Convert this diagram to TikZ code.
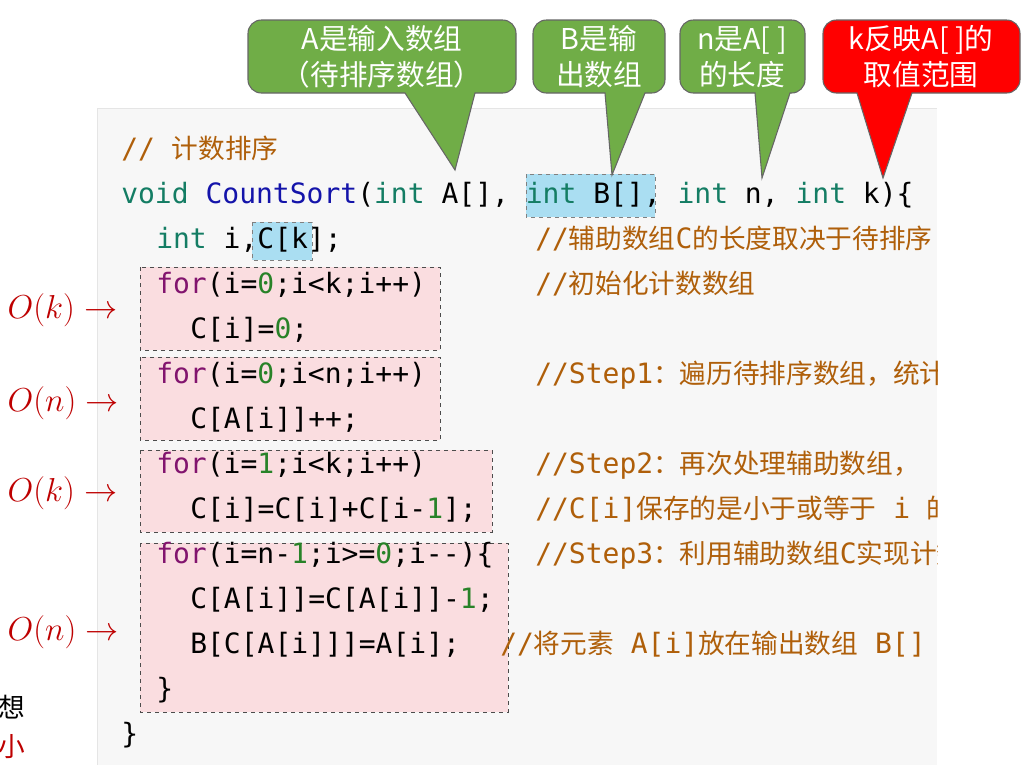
\documentclass[tikz,border=0pt]{standalone}
\usepackage{fontspec}
\setmainfont{Noto Sans CJK SC}
\setmonofont{DejaVu Sans Mono}
\newfontfamily\cjk{Noto Sans CJK SC}
\definecolor{kwgreen}{RGB}{20,125,100}
\definecolor{fnblue}{RGB}{20,20,170}
\definecolor{forpurple}{RGB}{130,20,110}
\definecolor{numgreen}{RGB}{40,130,40}
\definecolor{cmbrown}{RGB}{175,95,10}
\definecolor{boxpink}{RGB}{250,221,224}
\definecolor{hlblue}{RGB}{170,222,242}
\definecolor{callgreen}{RGB}{112,173,71}
\definecolor{darkred}{RGB}{190,0,0}
\newcommand{\kw}[1]{\textcolor{kwgreen}{#1}}
\newcommand{\fn}[1]{\textcolor{fnblue}{#1}}
\newcommand{\fr}[1]{\textcolor{forpurple}{#1}}
\newcommand{\nm}[1]{\textcolor{numgreen}{#1}}
\newcommand{\zh}[1]{{\cjk\fontsize{20}{24}\selectfont #1}}
\newcommand{\cm}[1]{\textcolor{cmbrown}{#1}}
\tikzset{
  code/.style={anchor=base west, inner sep=0pt, font=\ttfamily\fontsize{21}{25}\selectfont},
  loopbox/.style={draw=black!70, dashed, fill=boxpink},
  hlbox/.style={draw=black!50, dashed, fill=hlblue},
  callout/.style={draw=black!60, line width=0.8pt, rounded corners=10},
  calltext/.style={text=white, align=center, font=\fontsize{21.5}{27}\selectfont},
  cost/.style={text=darkred, anchor=west, font=\fontsize{27}{30}\selectfont}
}
\begin{document}
\begin{tikzpicture}[x=0.75pt, y=-0.75pt]
\useasboundingbox (0,0) rectangle (1036,765);
\fill[white] (0,0) rectangle (1036,765);
% code panel
\fill[black!3] (97,108) rectangle (937,765);
\draw[black!10] (97,765) -- (97,108) -- (937,108);
% loop boxes and highlights
\draw[loopbox] (140,267) rectangle (440,350);
\draw[loopbox] (140,357) rectangle (440,440);
\draw[loopbox] (140,450) rectangle (492,532);
\draw[loopbox] (140,543) rectangle (508,712);
\draw[hlbox] (526,174) rectangle (655,217);
\draw[hlbox] (252,222) rectangle (312,260);
% code lines
\begin{scope}
\clip (97,108) rectangle (937,765);
\node[code] (l1) at (121,158) {\cm{// \zh{计数排序}}};
\node[code] (l2) at (121,203) {\kw{void} \fn{CountSort}(\kw{int} A[], \kw{int} B[], \kw{int} n, \kw{int} k)\{};
\node[code] (l3) at (156,248) {\kw{int} i,C[k];};
\node[code] (c3) at (535,248) {\cm{//\zh{辅助数组}C\zh{的长度取决于待排序}}};
\node[code] (l4) at (156,293) {\fr{for}(i=\nm{0};i<k;i++)};
\node[code] (c4) at (535,293) {\cm{//\zh{初始化计数数组}}};
\node[code] (l5) at (190,338) {C[i]=\nm{0};};
\node[code] (l6) at (156,383) {\fr{for}(i=\nm{0};i<n;i++)};
\node[code] (c6) at (535,383) {\cm{//Step1\zh{：遍历待排序数组，统计}}};
\node[code] (l7) at (190,428) {C[A[i]]++;};
\node[code] (l8) at (156,473) {\fr{for}(i=\nm{1};i<k;i++)};
\node[code] (c8) at (535,473) {\cm{//Step2\zh{：再次处理辅助数组，}}};
\node[code] (l9) at (190,518) {C[i]=C[i]+C[i-\nm{1}];};
\node[code] (c9) at (535,518) {\cm{//C[i]\zh{保存的是小于或等于} i \zh{的}}};
\node[code] (l10) at (156,563) {\fr{for}(i=n-\nm{1};i>=\nm{0};i{-}{-})\{};
\node[code] (c10) at (535,563) {\cm{//Step3\zh{：利用辅助数组}C\zh{实现计数}}};
\node[code] (l11) at (190,608) {C[A[i]]=C[A[i]]-\nm{1};};
\node[code] (l12) at (190,653) {B[C[A[i]]]=A[i];};
\node[code] (c12) at (500,653) {\cm{//\zh{将元素} A[i]\zh{放在输出数组} B[]}};
\node[code] (l13) at (156,698) {\}};
\node[code] (l14) at (121,743) {\}};
\end{scope}
% cost labels
\node[cost] (ck1) at (3,310) {$O(k)\rightarrow$};
\node[cost] (cn1) at (3,403) {$O(n)\rightarrow$};
\node[cost] (ck2) at (3,493) {$O(k)\rightarrow$};
\node[cost] (cn2) at (3,632) {$O(n)\rightarrow$};
\node[anchor=west, font=\fontsize{20}{24}\selectfont] (xiang) at (-6,707) {想};
\node[anchor=west, text=darkred, font=\fontsize{20}{24}\selectfont] (xiao) at (-6,747) {小};
% callouts
\filldraw[callout, fill=callgreen] (382,20) -- (516,20) -- (516,93) [sharp corners] -- (475,93) -- (455,170) -- (405,93) [rounded corners=10] -- (248,93) -- (248,20) -- cycle;
\node[calltext] (ca) at (382,57) {A是输入数组\\（待排序数组）};
\filldraw[callout, fill=callgreen] (599,20) -- (665,20) -- (665,93) [sharp corners] -- (645,93) -- (612,175) -- (605,93) [rounded corners=10] -- (533,93) -- (533,20) -- cycle;
\node[calltext] (cb) at (599,57) {B是输\\出数组};
\filldraw[callout, fill=callgreen] (742,20) -- (805,20) -- (805,93) [sharp corners] -- (790,93) -- (762,178) -- (755,93) [rounded corners=10] -- (680,93) -- (680,20) -- cycle;
\node[calltext] (cn) at (742,57) {n是A[ ]\\的长度};
\filldraw[callout, fill=red] (921,20) -- (1020,20) -- (1020,93) [sharp corners] -- (912,93) -- (883,178) -- (857,93) [rounded corners=10] -- (823,93) -- (823,20) -- cycle;
\node[calltext] (ck) at (921,57) {k反映A[ ]的\\取值范围};
\end{tikzpicture}
\end{document}
